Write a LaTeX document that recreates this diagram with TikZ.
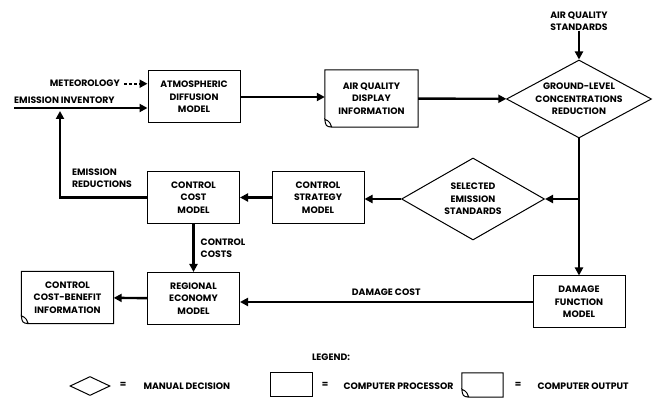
\documentclass[tikz,border=0pt]{standalone}
\usepackage{fontspec}
\setmainfont{Poppins}
\usetikzlibrary{arrows.meta,positioning,calc,shapes.geometric}

\begin{document}
\begin{tikzpicture}[x=1pt,y=-1pt,
  font=\fontsize{9.3}{12.5}\selectfont\bfseries,
  proc/.style={draw,line width=1pt,minimum width=92pt,minimum height=52pt,align=center,inner sep=1pt},
  outp/.style={minimum width=92pt,minimum height=52pt,align=center,inner sep=1pt},
  decis/.style={draw,diamond,line width=1pt,align=center,inner sep=-6pt,aspect=1.8},
  flow/.style={line width=2.4pt,-{Triangle[length=8pt,width=8pt]}},
  lbl/.style={align=left,inner sep=0pt}]
\useasboundingbox (0,0) rectangle (659,403);
% main chain
\node[proc] (atm) at (194,97) {ATMOSPHERIC\\DIFFUSION\\MODEL};
\node[outp,minimum width=93pt,minimum height=57pt] (disp) at (371.5,98.5) {AIR QUALITY\\DISPLAY\\INFORMATION};
\node[decis,minimum width=145pt,minimum height=78pt] (ground) at (579,99) {GROUND-LEVEL\\CONCENTRATIONS\\REDUCTION};
\node[lbl,align=center] (aqs) at (579,21) {AIR QUALITY\\STANDARDS};
\node[decis,minimum width=143pt,minimum height=82pt] (sel) at (473,199) {SELECTED\\EMISSION\\STANDARDS};
\node[proc] (strat) at (318,197.5) {CONTROL\\STRATEGY\\MODEL};
\node[proc] (cost) at (193.5,197.5) {CONTROL\\COST\\MODEL};
\node[proc] (reg) at (193.5,298.5) {REGIONAL\\ECONOMY\\MODEL};
\node[outp] (benefit) at (67.5,297.5) {CONTROL\\COST-BENEFIT\\INFORMATION};
\node[proc] (dmg) at (579,302) {DAMAGE\\FUNCTION\\MODEL};
% inputs
\node[lbl,anchor=base east] (met) at (120,87) {METEOROLOGY};
\node[lbl,anchor=base west] (inv) at (14,104) {EMISSION INVENTORY};
\coordinate (invl) at (14,108);
\coordinate (up) at (60,111);
\node[lbl] (red) at (102,178) {EMISSION\\REDUCTIONS};
% legend
\node (leg) at (331,357) {LEGEND:};
\node[draw,diamond,line width=1pt,inner sep=0pt,minimum width=40pt,minimum height=19pt] (legdec) at (90,386) {};
\node (eq1) at (123,385) {=};
\node[anchor=west] (legdect) at (140,386) {MANUAL DECISION};
\node[draw,line width=1pt,minimum width=42pt,minimum height=24pt] (legproc) at (291,385) {};
\node (eq2) at (325,385) {=};
\node[anchor=west] (legproct) at (340,386) {COMPUTER PROCESSOR};
\node[minimum width=41pt,minimum height=24pt] (legout) at (482.5,385) {};
\node (eq3) at (518,385) {=};
\node[anchor=west] (legoutt) at (534,386) {COMPUTER OUTPUT};
% output sheets
\foreach \n in {disp,benefit,legout}
  \draw[line width=1pt] ([yshift=8pt]\n.south west) -- (\n.north west) -- (\n.north east) -- (\n.south east) -- ([xshift=7pt]\n.south west)
    .. controls ([xshift=1pt,yshift=1pt]\n.south west) .. ([yshift=8pt]\n.south west)
    .. controls ([xshift=5pt,yshift=6pt]\n.south west) and ([xshift=6pt,yshift=3pt]\n.south west) .. ([xshift=7pt]\n.south west);
% connectors
\draw[flow,dash pattern=on 3pt off 2pt] ([xshift=4pt]met.east) -- (met.east -| atm.west);
\draw[flow] (invl) -- (invl -| atm.west);
\draw[flow] (atm.east) -- (atm.east -| disp.west);
\draw[flow] (disp) -- (ground);
\draw[flow] (aqs) -- (ground.north);
\draw[flow] (ground.south) -- (dmg.north);
\coordinate (br) at (ground.south |- sel.east);
\draw[flow] (br) -- (sel.east);
\draw[flow] (sel.west) -- (sel.west -| strat.east);
\draw[flow] (strat) -- (cost);
\draw[flow] (cost) -- node[lbl,right=6pt] {CONTROL\\COSTS} (reg);
\draw[flow] (cost.west) -| (up);
\draw[flow] (dmg.west) -- node[above=2pt] (dc) {DAMAGE COST} (dmg.west -| reg.east);
\draw[flow] (reg) -- (benefit);
\end{tikzpicture}
\end{document}
